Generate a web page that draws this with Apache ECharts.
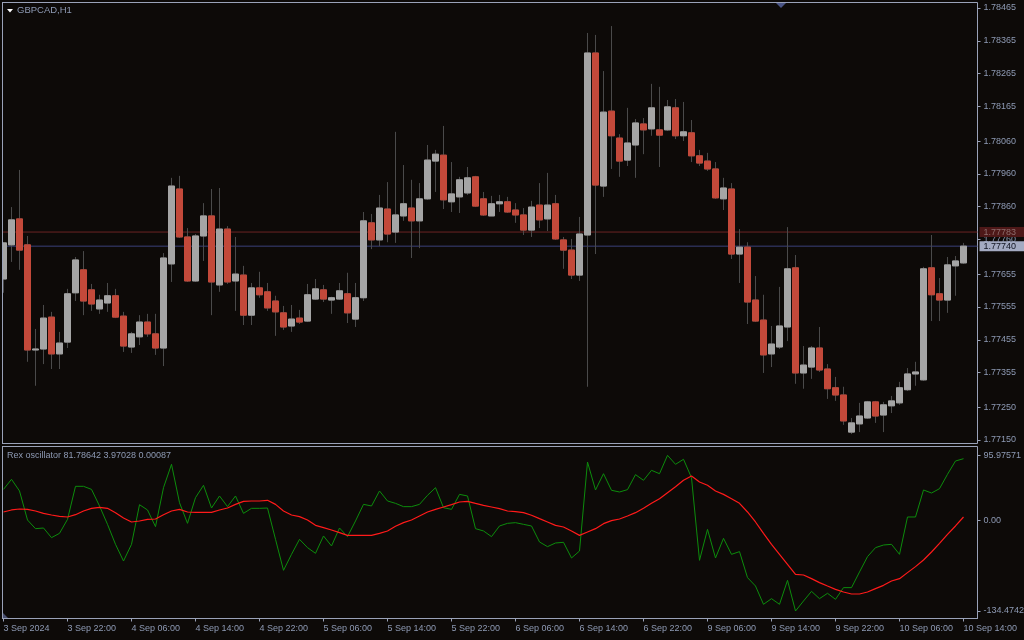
<!DOCTYPE html>
<html><head><meta charset="utf-8">
<script src="https://cdn.jsdelivr.net/npm/echarts@6/dist/echarts.min.js"></script>
<style>html,body{margin:0;padding:0;background:#0d0a08;}#c{width:1024px;height:640px;}</style>
</head><body><div id="c"></div>
<script>
// ---- data (GBPCAD, H1) ----
const open=[1.77640,1.77744,1.77823,1.77744,1.77424,1.77427,1.77524,1.77412,1.77448,1.77598,
1.77668,1.77607,1.77549,1.77567,1.77589,1.77527,1.77433,1.77464,1.77509,1.77473,
1.77430,1.77686,1.77914,1.77768,1.77634,1.77771,1.77832,1.77622,1.77792,1.77634,
1.77652,1.77530,1.77613,1.77601,1.77573,1.77537,1.77497,1.77521,1.77512,1.77579,
1.77607,1.77576,1.77579,1.77595,1.77518,1.77583,1.77811,1.77759,1.77853,1.77783,
1.77832,1.77856,1.77817,1.77884,1.77999,1.78017,1.77875,1.77890,1.77902,1.77951,
1.77884,1.77832,1.77869,1.77875,1.77850,1.77835,1.77789,1.77865,1.77823,1.77869,
1.77759,1.77728,1.77652,1.77774,1.78328,1.77923,1.78151,1.78069,1.78002,1.78048,
1.78112,1.78097,1.78094,1.78094,1.78161,1.78076,1.78085,1.78015,1.77999,1.77975,
1.77884,1.77914,1.77716,1.77737,1.77576,1.77515,1.77412,1.77433,1.77494,1.77674,
1.77354,1.77372,1.77430,1.77366,1.77309,1.77287,1.77174,1.77199,1.77217,1.77266,
1.77226,1.77254,1.77263,1.77303,1.77351,1.77333,1.77674,1.77595,1.77576,1.77680,1.77689];
const high=[1.77752,1.77859,1.77972,1.77771,1.77488,1.77561,1.77540,1.77479,1.77610,1.77707,
1.77725,1.77625,1.77592,1.77628,1.77610,1.77540,1.77479,1.77530,1.77534,1.77534,
1.77719,1.77948,1.77954,1.77795,1.77777,1.77871,1.77914,1.77917,1.77801,1.77768,
1.77680,1.77628,1.77662,1.77628,1.77589,1.77558,1.77561,1.77546,1.77625,1.77640,
1.77622,1.77586,1.77628,1.77659,1.77628,1.77844,1.77838,1.77896,1.77935,1.78088,
1.77987,1.77942,1.77932,1.78048,1.78033,1.78106,1.77996,1.77951,1.77981,1.77954,
1.77905,1.77893,1.77896,1.77890,1.77871,1.77856,1.77878,1.77932,1.77963,1.77896,
1.77768,1.77762,1.77829,1.78389,1.78383,1.78273,1.78410,1.78081,1.78161,1.78127,
1.78130,1.78234,1.78225,1.78185,1.78188,1.78179,1.78124,1.78033,1.78024,1.77996,
1.77948,1.77932,1.77792,1.77752,1.77649,1.77592,1.77497,1.77616,1.77798,1.77713,
1.77436,1.77436,1.77494,1.77381,1.77342,1.77312,1.77217,1.77263,1.77269,1.77269,
1.77266,1.77284,1.77327,1.77369,1.77388,1.77677,1.77774,1.77643,1.77707,1.77710,1.77750];
const low=[1.77598,1.77692,1.77668,1.77388,1.77315,1.77381,1.77366,1.77366,1.77430,1.77573,
1.77530,1.77543,1.77534,1.77540,1.77521,1.77418,1.77415,1.77439,1.77464,1.77409,
1.77375,1.77631,1.77765,1.77631,1.77631,1.77695,1.77530,1.77601,1.77625,1.77543,
1.77500,1.77500,1.77583,1.77543,1.77467,1.77485,1.77479,1.77503,1.77509,1.77576,
1.77570,1.77534,1.77576,1.77506,1.77494,1.77573,1.77731,1.77740,1.77752,1.77750,
1.77817,1.77704,1.77734,1.77881,1.77905,1.77853,1.77844,1.77841,1.77896,1.77859,
1.77832,1.77832,1.77844,1.77841,1.77811,1.77774,1.77768,1.77795,1.77786,1.77759,
1.77671,1.77640,1.77634,1.77312,1.77716,1.77890,1.77975,1.77951,1.77984,1.77948,
1.78020,1.78076,1.77981,1.78091,1.78066,1.78060,1.77996,1.77984,1.77969,1.77884,
1.77850,1.77701,1.77628,1.77503,1.77509,1.77354,1.77372,1.77427,1.77451,1.77321,
1.77306,1.77336,1.77357,1.77275,1.77269,1.77196,1.77168,1.77174,1.77214,1.77202,
1.77174,1.77232,1.77257,1.77299,1.77315,1.77330,1.77512,1.77512,1.77537,1.77589,1.77686];
const close=[1.77750,1.77820,1.77728,1.77424,1.77427,1.77521,1.77412,1.77445,1.77595,1.77698,
1.77573,1.77564,1.77576,1.77589,1.77524,1.77436,1.77473,1.77509,1.77473,1.77430,
1.77704,1.77923,1.77768,1.77634,1.77771,1.77832,1.77631,1.77792,1.77631,1.77655,
1.77530,1.77613,1.77592,1.77552,1.77540,1.77494,1.77518,1.77509,1.77592,1.77610,
1.77579,1.77583,1.77604,1.77537,1.77583,1.77817,1.77759,1.77856,1.77777,1.77835,
1.77869,1.77817,1.77884,1.78002,1.78020,1.77881,1.77899,1.77942,1.77948,1.77862,
1.77835,1.77869,1.77875,1.77844,1.77835,1.77789,1.77859,1.77820,1.77865,1.77762,
1.77728,1.77652,1.77777,1.78328,1.77926,1.78148,1.78076,1.77999,1.78054,1.78115,
1.78094,1.78161,1.78078,1.78164,1.78076,1.78088,1.78015,1.77993,1.77975,1.77887,
1.77917,1.77716,1.77737,1.77570,1.77512,1.77409,1.77442,1.77497,1.77671,1.77354,
1.77378,1.77430,1.77363,1.77306,1.77287,1.77208,1.77202,1.77223,1.77266,1.77223,
1.77257,1.77269,1.77309,1.77351,1.77357,1.77671,1.77592,1.77576,1.77683,1.77695,1.77740];

const rex=[45.6,60.5,43.2,0.2,-12.6,-11.6,-25.9,-19.5,1.2,50.1,
50.1,45.6,21.0,-6.2,-35.8,-60.5,-35.8,22.9,15.1,-9.6,
48.1,82.7,25.9,-4.7,33.3,51.6,18.0,35.8,20.0,35.8,
10.1,17.5,17.5,18.0,-28.4,-74.3,-50.6,-28.4,-40.7,-49.1,
-23.4,-38.2,-11.6,-24.4,-1.2,23.4,21.0,43.2,28.4,24.9,
20.0,20.0,23.4,36.8,48.1,18.5,16.0,38.2,35.8,-12.6,
-16.0,-24.4,-8.6,-4.7,-3.7,-6.2,-8.6,-32.3,-39.2,-33.8,
-32.8,-56.0,-45.7,86.1,44.7,68.8,44.2,41.7,45.2,67.4,
59.0,73.8,68.8,96.0,82.7,90.1,62.9,-59.5,-13.6,-56.0,
-26.9,-50.6,-46.6,-85.1,-97.5,-124.6,-116.2,-124.6,-89.1,-134.5,
-119.7,-105.4,-116.2,-108.3,-117.2,-99.9,-99.9,-76.7,-54.0,-40.7,
-36.8,-35.8,-50.6,4.7,4.7,44.7,40.2,46.6,67.9,87.6,91.0];
const signal=[12.1,15.1,16.5,16.0,13.6,10.1,7.6,5.7,4.7,8.1,
13.6,17.5,19.0,17.5,11.1,3.2,-2.7,-1.2,1.2,1.7,
8.1,13.6,16.0,12.1,11.6,11.6,11.6,15.1,18.0,23.4,
27.9,28.4,28.4,29.4,23.4,13.6,7.6,5.2,0.2,-7.7,
-11.1,-14.6,-18.5,-22.5,-22.5,-22.5,-22.5,-19.5,-16.0,-9.1,
-3.7,0.2,6.2,12.1,16.0,19.5,22.9,26.9,27.9,24.9,
22.0,19.5,17.0,13.6,12.6,11.1,7.2,2.2,-2.7,-7.7,
-10.1,-16.0,-22.5,-17.5,-12.6,-5.2,-0.7,1.7,6.2,11.1,
17.5,24.9,31.8,40.7,49.6,59.0,65.4,56.5,51.6,43.2,
38.2,31.8,24.9,12.1,-2.7,-19.5,-35.8,-50.6,-65.4,-80.2,
-81.2,-86.6,-92.5,-97.5,-102.4,-106.4,-109.3,-109.3,-106.4,-101.4,
-96.5,-90.1,-86.6,-77.7,-68.8,-59.0,-47.1,-34.3,-21.0,-8.6,4.7];

const priceTicks=[1.78465,1.78365,1.78265,1.78165,1.78060,1.77960,1.77860,1.77760,1.77655,1.77555,1.77455,1.77355,1.77250,1.77150];
const timeLabels=['3 Sep 2024','3 Sep 22:00','4 Sep 06:00','4 Sep 14:00','4 Sep 22:00','5 Sep 06:00','5 Sep 14:00','5 Sep 22:00',
'6 Sep 06:00','6 Sep 14:00','6 Sep 22:00','9 Sep 06:00','9 Sep 14:00','9 Sep 22:00','10 Sep 06:00','10 Sep 14:00'];
const barsPerLabel=8;
const oscTicks=[95.97571,0,-134.47427];
const oscTickLabels=['95.97571','0.00','-134.47427'];
const askPrice=1.77783, bidPrice=1.77740;
const symbolTitle='GBPCAD,H1';
const oscTitle='Rex oscillator 81.78642 3.97028 0.00087';

// ---- build ----
const BG='#0d0a08', FRAME='#9aa2b8', TXT='#8e9ab4', FONT='Liberation Sans';
const X_MIN=-0.125, X_MAX=121.75;
const wickData=open.map((o,i)=>[i,o,close[i],low[i],high[i]]);
const bodyData=open.map((o,i)=>[i,o,close[i],Math.min(o,close[i]),Math.max(o,close[i])]);
const xTickVals=timeLabels.map((_,k)=>k*barsPerLabel);

function priceLine(price,lineColor,boxColor,textColor){
  return {type:'line',xAxisIndex:0,yAxisIndex:0,data:[[X_MIN,price],[X_MAX,price]],showSymbol:false,symbol:'none',silent:true,z:1,
    lineStyle:{color:lineColor,width:1},
    endLabel:{show:true,distance:2,formatter:()=>price.toFixed(5),color:textColor,backgroundColor:boxColor,
      padding:[1,10,0,4],fontSize:9,fontFamily:FONT}};
}

const chart=echarts.init(document.getElementById('c'),null,{renderer:'canvas'});
const xBase={type:'value',min:X_MIN,max:X_MAX,splitLine:{show:false}};
chart.setOption({
  backgroundColor:BG,
  animation:false,
  title:[
    {text:symbolTitle,left:17,top:5,padding:0,textStyle:{color:TXT,fontSize:9.5,fontWeight:'normal',fontFamily:FONT}},
    {text:oscTitle,left:7,top:451,padding:0,textStyle:{color:TXT,fontSize:9,fontWeight:'normal',fontFamily:FONT}}
  ],
  grid:[
    {left:2.5,top:2.5,width:975,height:441,show:true,borderColor:FRAME,borderWidth:1,backgroundColor:'transparent',outerBoundsMode:'none',containLabel:false},
    {left:2.5,top:446.5,width:975,height:172,show:true,borderColor:FRAME,borderWidth:1,backgroundColor:'transparent',outerBoundsMode:'none',containLabel:false}
  ],
  xAxis:[
    Object.assign({},xBase,{gridIndex:0,show:false}),
    Object.assign({},xBase,{gridIndex:1,position:'bottom',
      axisLine:{show:true,onZero:false,lineStyle:{color:FRAME,width:1}},
      axisTick:{show:true,length:3,lineStyle:{color:FRAME},customValues:xTickVals},
      axisLabel:{show:true,color:TXT,fontSize:9,fontFamily:FONT,align:'left',margin:6,
        customValues:xTickVals,formatter:v=>timeLabels[Math.round(v/barsPerLabel)]||''}})
  ],
  yAxis:[
    {type:'value',gridIndex:0,position:'right',min:1.771393,max:1.784817,splitLine:{show:false},
      axisLine:{show:false,onZero:false},
      axisTick:{show:true,length:3,lineStyle:{color:FRAME},customValues:priceTicks},
      axisLabel:{color:TXT,fontSize:9,fontFamily:FONT,margin:6,customValues:priceTicks,formatter:v=>v.toFixed(5)}},
    {type:'value',gridIndex:1,position:'right',min:-145.6,max:109.06,splitLine:{show:false},
      axisLine:{show:false,onZero:false},
      axisTick:{show:true,length:3,lineStyle:{color:FRAME},customValues:oscTicks},
      axisLabel:{color:TXT,fontSize:9,fontFamily:FONT,margin:6,customValues:oscTicks,
        formatter:v=>{const k=oscTicks.findIndex(t=>Math.abs(t-v)<1e-6);return k>=0?oscTickLabels[k]:'';}}}
  ],
  series:[
    priceLine(askPrice,'#6b2424','#4e1818','#8d6d6d'),
    priceLine(bidPrice,'#3b417a','#a4abc2','#10131f'),
    {type:'candlestick',xAxisIndex:0,yAxisIndex:0,data:wickData,encode:{x:0,y:[1,2,3,4]},barWidth:6,silent:true,clip:true,z:2,
      itemStyle:{color:'#4a4a4a',color0:'#4a4a4a',borderColor:'#4a4a4a',borderColor0:'#4a4a4a',borderWidth:1}},
    {type:'candlestick',xAxisIndex:0,yAxisIndex:0,data:bodyData,encode:{x:0,y:[1,2,3,4]},barWidth:6,silent:true,clip:true,z:3,
      itemStyle:{color:'#a5a5a5',color0:'#c3493a',borderColor:'#a5a5a5',borderColor0:'#c3493a',borderWidth:1}},
    {type:'line',xAxisIndex:1,yAxisIndex:1,data:rex.map((v,i)=>[i,v]),showSymbol:false,symbol:'none',silent:true,
      lineStyle:{color:'#0c8c0c',width:1}},
    {type:'line',xAxisIndex:1,yAxisIndex:1,data:signal.map((v,i)=>[i,v]),showSymbol:false,symbol:'none',silent:true,
      lineStyle:{color:'#ff1a1a',width:1.2}}
  ],
  graphic:[
    {type:'rect',shape:{x:0,y:0,width:2,height:640},style:{fill:BG},z:90,silent:true},
    {type:'line',shape:{x1:2.5,y1:2,x2:2.5,y2:444},style:{stroke:FRAME,lineWidth:1},z:91,silent:true},
    {type:'line',shape:{x1:2.5,y1:446,x2:2.5,y2:619},style:{stroke:FRAME,lineWidth:1},z:91,silent:true},
    {type:'polygon',shape:{points:[[7,9],[13,9],[10,12.5]]},style:{fill:'#ffffff'},z:100},
    {type:'polygon',shape:{points:[[776,3],[786,3],[781,8]]},style:{fill:'#4a5586'},z:100},
    {type:'polygon',shape:{points:[[3,613],[3,618],[8,618]]},style:{fill:'#4a5070'},z:100}
  ]
});
</script></body></html>
